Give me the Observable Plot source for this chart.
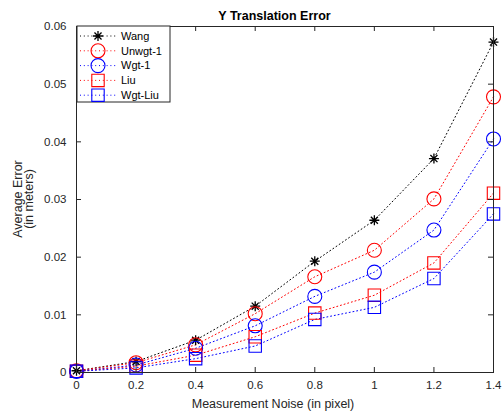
<!DOCTYPE html>
<html><head><meta charset="utf-8">
<script src="https://cdn.jsdelivr.net/npm/d3@7"></script>
<script src="https://cdn.jsdelivr.net/npm/@observablehq/plot@0.6"></script>
<style>
body{margin:0;background:#fff}
#chart svg{font-family:"Liberation Sans",Arial,Helvetica,sans-serif;background:#fff}
</style>
</head><body><div id="chart"></div>
<script>
// ---- data ----
const noise = [0, 0.2, 0.4, 0.6, 0.8, 1.0, 1.2, 1.4];
const wang    = [0.0003, 0.0019, 0.0056, 0.0115, 0.0193, 0.0264, 0.0371, 0.0573];
const unwgt1  = [0.0003, 0.0017, 0.0048, 0.0102, 0.0166, 0.0212, 0.0301, 0.0478];
const wgt1    = [0.0002, 0.0013, 0.0042, 0.0081, 0.0132, 0.0174, 0.0247, 0.0405];
const liu     = [0.0002, 0.0011, 0.0030, 0.0062, 0.0103, 0.0134, 0.0190, 0.0311];
const wgtLiu  = [0.0002, 0.0008, 0.0024, 0.0046, 0.0092, 0.0113, 0.0163, 0.0275];
const seriesNames = ["Wang", "Unwgt-1", "Wgt-1", "Liu", "Wgt-Liu"];
const seriesValues = [wang, unwgt1, wgt1, liu, wgtLiu];
const xTicks = [0, 0.2, 0.4, 0.6, 0.8, 1, 1.2, 1.4];
const yTicks = [0, 0.01, 0.02, 0.03, 0.04, 0.05, 0.06];
const titleText = "Y Translation Error";
const xLabel = "Measurement Noise (in pixel)";
const yLabel = ["Average Error", "(in meters)"];

// ---- styles ----
const star8 = {draw(ctx, size) {
  const r = Math.sqrt(size / Math.PI);
  for (let k = 0; k < 4; k++) {
    const a = k * Math.PI / 4;
    ctx.moveTo(r * Math.cos(a), r * Math.sin(a));
    ctx.lineTo(-r * Math.cos(a), -r * Math.sin(a));
  }
}};
const styles = [
  {color: "#000000", symbol: star8, r: 5, sw: 1.3},
  {color: "#ff0000", symbol: "circle", r: 7, sw: 1.1},
  {color: "#0000ff", symbol: "circle", r: 7, sw: 1.1},
  {color: "#ff0000", symbol: "square", r: 7, sw: 1.1},
  {color: "#0000ff", symbol: "square", r: 7, sw: 1.1}
];

const W = 503, H = 412, mL = 76, mR = 10, mT = 26, mB = 40;
const innerW = W - mL - mR, innerH = H - mT - mB;
const axisColor = "#262626";

const rows = seriesNames.map((name, i) => noise.map((x, j) => ({x, y: seriesValues[i][j], name})));

const marks = [];
rows.forEach((data, i) => {
  const s = styles[i];
  marks.push(Plot.line(data, {x: "x", y: "y", stroke: s.color, strokeWidth: 1, strokeDasharray: "1,2.8"}));
});
rows.forEach((data, i) => {
  const s = styles[i];
  marks.push(Plot.dot(data, {x: "x", y: "y", stroke: s.color, fill: "none", r: s.r, symbol: s.symbol, strokeWidth: s.sw}));
});

const plot = Plot.plot({
  width: W, height: H,
  marginLeft: mL, marginRight: mR, marginTop: mT, marginBottom: mB,
  style: {fontSize: "11.5px", color: axisColor, background: "#fff"},
  x: {domain: [0, 1.4]},
  y: {domain: [0, 0.06]},
  marks: [
    ...marks,
    Plot.frame({stroke: axisColor, strokeWidth: 1}),
    Plot.tickX(xTicks, {x: d => d, insetTop: innerH - 5, stroke: axisColor}),
    Plot.tickX(xTicks, {x: d => d, insetBottom: innerH - 5, stroke: axisColor}),
    Plot.tickY(yTicks, {y: d => d, insetRight: innerW - 5, stroke: axisColor}),
    Plot.tickY(yTicks, {y: d => d, insetLeft: innerW - 5, stroke: axisColor}),
    Plot.axisX({ticks: xTicks, tickSize: 0, tickPadding: 8, tickFormat: d => String(d), label: null, fill: axisColor}),
    Plot.axisY({ticks: yTicks, tickSize: 0, tickPadding: 10, tickFormat: d => String(d), label: null, fill: axisColor})
  ]
});
document.getElementById("chart").appendChild(plot);

// ---- titles & legend ----
const svg = d3.select(plot);
svg.append("text").attr("x", 274.5).attr("y", 20).attr("text-anchor", "middle")
  .attr("font-size", "12.5px").attr("font-weight", "bold").attr("fill", "#000").text(titleText);
svg.append("text").attr("x", 273).attr("y", 408).attr("text-anchor", "middle")
  .attr("font-size", "12.5px").attr("fill", axisColor).text(xLabel);
yLabel.forEach((t, i) => {
  svg.append("text").attr("transform", `translate(${21.5 + i * 11.5},199) rotate(-90)`)
    .attr("text-anchor", "middle").attr("font-size", "12.5px").attr("fill", axisColor).text(t);
});

const lg = svg.append("g");
lg.append("rect").attr("x", 77).attr("y", 26).attr("width", 93).attr("height", 76)
  .attr("fill", "#fff").attr("stroke", axisColor).attr("stroke-width", 1);
const symMap = {circle: d3.symbolCircle, square: d3.symbolSquare};
seriesNames.forEach((name, i) => {
  const s = styles[i];
  const y = 36 + i * 14.8;
  lg.append("line").attr("x1", 80).attr("x2", 116).attr("y1", y).attr("y2", y)
    .attr("stroke", s.color).attr("stroke-width", 1).attr("stroke-dasharray", "1,2.8");
  const type = typeof s.symbol === "string" ? symMap[s.symbol] : s.symbol;
  lg.append("path").attr("transform", `translate(98,${y})`)
    .attr("d", d3.symbol(type, Math.PI * s.r * s.r)())
    .attr("fill", "none").attr("stroke", s.color).attr("stroke-width", s.sw);
  lg.append("text").attr("x", 121).attr("y", y).attr("dy", "0.35em").attr("text-anchor", "start")
    .attr("font-size", "11px").attr("fill", "#000").text(name);
});
</script>
</body></html>
